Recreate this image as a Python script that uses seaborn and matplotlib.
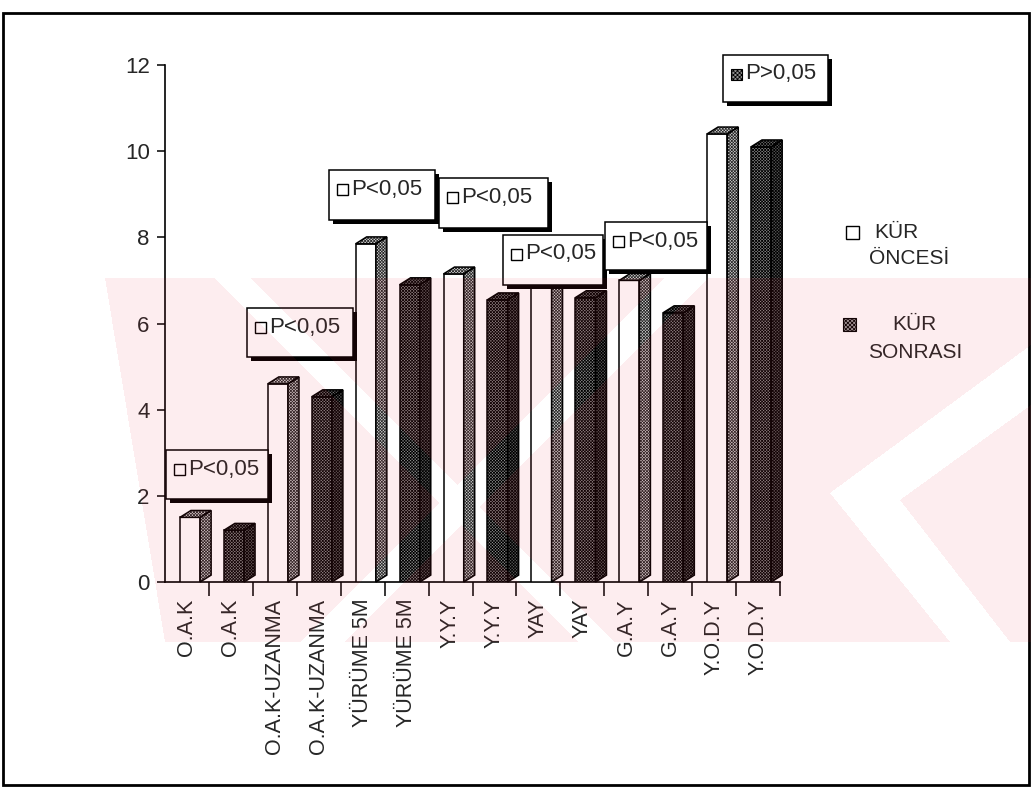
import numpy as np
import pandas as pd
import matplotlib
matplotlib.use("Agg")
import matplotlib.pyplot as plt
import seaborn as sns
from matplotlib.patches import Polygon, Rectangle
from matplotlib.path import Path

# ---- data -------------------------------------------------------------
categories = ["O.A.K", "O.A.K", "O.A.K-UZANMA", "O.A.K-UZANMA",
              "YÜRÜME 5M", "YÜRÜME 5M", "Y.Y.Y", "Y.Y.Y", "YAY", "YAY",
              "G.A.Y", "G.A.Y", "Y.O.D.Y", "Y.O.D.Y"]
groups = ["KÜR ÖNCESİ", "KÜR SONRASI"] * 7
values = [1.5, 1.2, 4.6, 4.3, 7.85, 6.9, 7.15, 6.55, 6.9, 6.6,
          7.0, 6.25, 10.4, 10.1]
p_texts = ["P<0,05", "P<0,05", "P<0,05", "P<0,05", "P<0,05", "P<0,05",
           "P>0,05"]
legend_lines = [["KÜR", "ÖNCESİ"], ["KÜR", "SONRASI"]]
y_ticks = [0, 2, 4, 6, 8, 10, 12]

# ---- page setup ---------------------------------------------------------
W, H = 1031, 790


def fx(px):
    return px / W


def fy(py):
    return 1 - py / H


sns.set_style("ticks")
plt.rcParams["font.family"] = ["Liberation Sans", "DejaVu Sans"]
plt.rcParams["hatch.linewidth"] = 0.55

fig = plt.figure(figsize=(W / 100, H / 100), dpi=100)
fig.patch.set_facecolor("white")
ax = fig.add_axes([fx(165), fy(582), (780 - 165) / W, (582 - 65) / H])

df = pd.DataFrame({"pos": range(len(values)), "value": values,
                   "group": groups})
sns.barplot(data=df, x="pos", y="value", hue="group", dodge=False,
            width=0.46, palette={"KÜR ÖNCESİ": "white",
                                 "KÜR SONRASI": "#8c8c8c"},
            edgecolor="black", linewidth=1.1, legend=False, ax=ax,
            zorder=3)

# ---- pseudo-3D faces built from each bar --------------------------------
dx, dy = 0.25, 0.16
shift = 0.07
dense = "x" * 11
bars = [p for p in ax.patches if isinstance(p, Rectangle)]
for bar in bars:
    bar.set_x(bar.get_x() + shift)
    x0, w, h = bar.get_x(), bar.get_width(), bar.get_height()
    idx = int(round(x0 + w / 2 - shift))
    after = groups[idx] == "KÜR SONRASI"
    x1 = x0 + w
    side = [(x1, 0), (x1 + dx, dy), (x1 + dx, h + dy), (x1, h)]
    top = [(x0, h), (x0 + dx, h + dy), (x1 + dx, h + dy), (x1, h)]
    if after:
        bar.set_hatch(dense)
        side_fc, side_hc = "#5a5a5a", "black"
        top_fc, top_hc = "#707070", "black"
    else:
        side_fc, side_hc = "#d2d2d2", "#2a2a2a"
        top_fc, top_hc = "#e0e0e0", "#2a2a2a"
    for poly, fc, hc in ((side, side_fc, side_hc), (top, top_fc, top_hc)):
        ax.add_patch(Polygon(poly, closed=True, facecolor=fc, edgecolor=hc,
                             hatch=dense, linewidth=0, zorder=3,
                             clip_on=False))
        ax.add_patch(Polygon(poly, closed=True, fill=False,
                             edgecolor="black", linewidth=1.1, zorder=4,
                             clip_on=False))

# ---- axes styling ------------------------------------------------------
ax.set_xlim(-0.5, len(values) - 0.5)
ax.set_ylim(0, 12)
ax.set_yticks(y_ticks)
ax.set_yticklabels([str(t) for t in y_ticks], fontsize=16)
ax.set_xticks(range(len(categories)))
ax.set_xticklabels(categories, rotation=90, fontsize=15.5, va="top")
ax.set_xticks(np.arange(0.5, len(categories), 1.0), minor=True)
ax.tick_params(axis="x", which="major", length=0, pad=12)
ax.tick_params(axis="x", which="minor", length=10, width=1.1,
               direction="out", color="black")
ax.tick_params(axis="y", length=6, width=1.1, direction="out", pad=5,
               color="black")
ax.set_xlabel("")
ax.set_ylabel("")
sns.despine(ax=ax)
for s in ("left", "bottom"):
    ax.spines[s].set_linewidth(1.2)
    ax.spines[s].set_color("black")
ax.patch.set_alpha(0)

# ---- significance boxes --------------------------------------------------
box_frames = [(166, 450, 268, 499), (247, 308, 353, 357),
              (329, 170, 435, 220), (439, 178, 548, 228),
              (503, 235, 603, 285), (605, 222, 707, 270),
              (723, 55, 828, 102)]
for k, (x0, y0, x1, y1) in enumerate(box_frames):
    dark = k == len(box_frames) - 1
    fig.add_artist(Rectangle((fx(x0 + 4), fy(y1 + 4)), (x1 - x0) / W,
                             (y1 - y0) / H, transform=fig.transFigure,
                             facecolor="black", edgecolor="none", zorder=5))
    fig.add_artist(Rectangle((fx(x0), fy(y1)), (x1 - x0) / W,
                             (y1 - y0) / H, transform=fig.transFigure,
                             facecolor="white", edgecolor="black",
                             linewidth=1.1, zorder=6))
    yc = y0 + 19
    if dark:
        fig.add_artist(Rectangle((fx(x0 + 8), fy(yc + 6)), 11 / W, 11 / H,
                                 transform=fig.transFigure,
                                 facecolor="#8c8c8c", edgecolor="black",
                                 hatch="x" * 8, linewidth=0.8, zorder=7))
    else:
        fig.add_artist(Rectangle((fx(x0 + 8), fy(yc + 6)), 11 / W, 11 / H,
                                 transform=fig.transFigure,
                                 facecolor="white", edgecolor="black",
                                 linewidth=1.0, zorder=7))
    fig.text(fx(x0 + 22), fy(yc), p_texts[k], fontsize=16, ha="left",
             va="center", zorder=8)

# ---- legend --------------------------------------------------------------
fig.add_artist(Rectangle((fx(846), fy(239)), 13 / W, 13 / H,
                         transform=fig.transFigure, facecolor="white",
                         edgecolor="black", linewidth=1.0, zorder=7))
fig.text(fx(896), fy(232), legend_lines[0][0], fontsize=15, ha="center",
         va="center")
fig.text(fx(909), fy(259), legend_lines[0][1], fontsize=15, ha="center",
         va="center")
fig.add_artist(Rectangle((fx(843), fy(331)), 13 / W, 13 / H,
                         transform=fig.transFigure, facecolor="#9a9a9a",
                         edgecolor="black", hatch="x" * 8, linewidth=0.8,
                         zorder=7))
fig.text(fx(914), fy(325), legend_lines[1][0], fontsize=15, ha="center",
         va="center")
fig.text(fx(915), fy(353), legend_lines[1][1], fontsize=15, ha="center",
         va="center")

# ---- page frame ----------------------------------------------------------
fig.add_artist(Rectangle((fx(3), fy(785)), (1029 - 3) / W, (785 - 13) / H,
                         transform=fig.transFigure, fill=False,
                         edgecolor="black", linewidth=2.0, zorder=9))

# ---- faint background stamp ----------------------------------------------
pink_area = [(105, 278), (1031, 278), (1031, 642), (165, 642)]
gaps = [
    [(215, 278), (250, 278), (614, 642), (579, 642)],
    [(300, 642), (345, 642), (709, 278), (664, 278)],
    [(830, 493), (1031, 345), (1031, 405), (900, 500), (1010, 642),
     (950, 642)],
]
yy, xx = np.mgrid[0:H, 0:W]
pts = np.column_stack([xx.ravel() + 0.5, yy.ravel() + 0.5])
mask = Path(pink_area).contains_points(pts)
for g in gaps:
    mask &= ~Path(g).contains_points(pts)
mask = mask.reshape(H, W)
stamp = np.zeros((H, W, 4))
stamp[..., 0] = 0.91
stamp[..., 1] = 0.16
stamp[..., 2] = 0.24
stamp[..., 3] = mask * 0.085
fig.figimage(stamp, xo=0, yo=0, origin="upper", zorder=20)

fig.savefig("out.png", dpi=100, facecolor="white")
